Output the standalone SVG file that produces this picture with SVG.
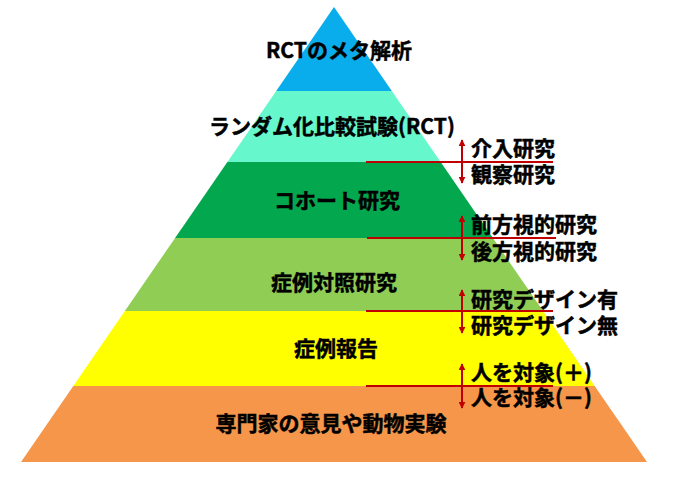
<svg xmlns="http://www.w3.org/2000/svg" width="680" height="484" viewBox="0 0 680 484">
<defs>
<style>
.t{font-family:"Noto Sans CJK JP","Noto Sans",sans-serif;font-weight:bold;font-size:21px;fill:#000;stroke:#000;stroke-width:0.5}
.c{text-anchor:middle}
.rl{stroke:#C00000;stroke-width:2.2;fill:none}
.ar{stroke:#C00000;stroke-width:2;fill:none;marker-start:url(#ah);marker-end:url(#ah)}
</style>
<marker id="ah" viewBox="0 0 10 10" refX="9" refY="5" markerWidth="7" markerHeight="7" markerUnits="userSpaceOnUse" orient="auto-start-reverse">
<path d="M0,0 L10,5 L0,10 z" fill="#C00000"/>
</marker>
</defs>
<rect width="680" height="484" fill="#fff"/>
<g id="meta">
<polygon points="334,7 391.8,91 276.2,91" fill="#0AADEB"/>
<text class="t c" x="339" y="58">RCTのメタ解析</text>
</g>
<g id="rct">
<polygon points="276.2,91 391.8,91 440.6,162 227.4,162" fill="#66F8CC"/>
<text class="t c" x="332" y="134">ランダム化比較試験(RCT)</text>
</g>
<g id="cohort">
<polygon points="227.4,162 440.6,162 492.9,238 175.1,238" fill="#03A84E"/>
<text class="t c" x="337" y="208">コホート研究</text>
</g>
<g id="casecontrol">
<polygon points="175.1,238 492.9,238 543.1,311 124.9,311" fill="#8FCD55"/>
<text class="t c" x="334" y="290">症例対照研究</text>
</g>
<g id="casereport">
<polygon points="124.9,311 543.1,311 594.7,386 73.3,386" fill="#FFFF00"/>
<text class="t c" x="336" y="356">症例報告</text>
</g>
<g id="expert">
<polygon points="73.3,386 594.7,386 647,462 21,462" fill="#F6964A"/>
<text class="t c" x="331" y="431">専門家の意見や動物実験</text>
</g>
<g id="connectors">
<line class="rl" x1="366" y1="162" x2="553" y2="162"/>
<line class="ar" x1="462" y1="140" x2="462" y2="183"/>
<line class="rl" x1="367" y1="238" x2="556" y2="238"/>
<line class="ar" x1="462" y1="216" x2="462" y2="260"/>
<line class="rl" x1="366" y1="311" x2="553" y2="311"/>
<line class="ar" x1="462" y1="290" x2="462" y2="333"/>
<line class="rl" x1="366" y1="386" x2="553" y2="386"/>
<line class="ar" x1="462" y1="364" x2="462" y2="408"/>
</g>
<g id="side-labels">
<text class="t" x="471" y="156">介入研究</text>
<text class="t" x="471" y="182">観察研究</text>
<text class="t" x="471" y="232">前方視的研究</text>
<text class="t" x="471" y="259">後方視的研究</text>
<text class="t" x="471" y="307">研究デザイン有</text>
<text class="t" x="471" y="333">研究デザイン無</text>
<text class="t" x="471" y="380">人を対象(＋)</text>
<text class="t" x="471" y="405">人を対象(－)</text>
</g>
</svg>
